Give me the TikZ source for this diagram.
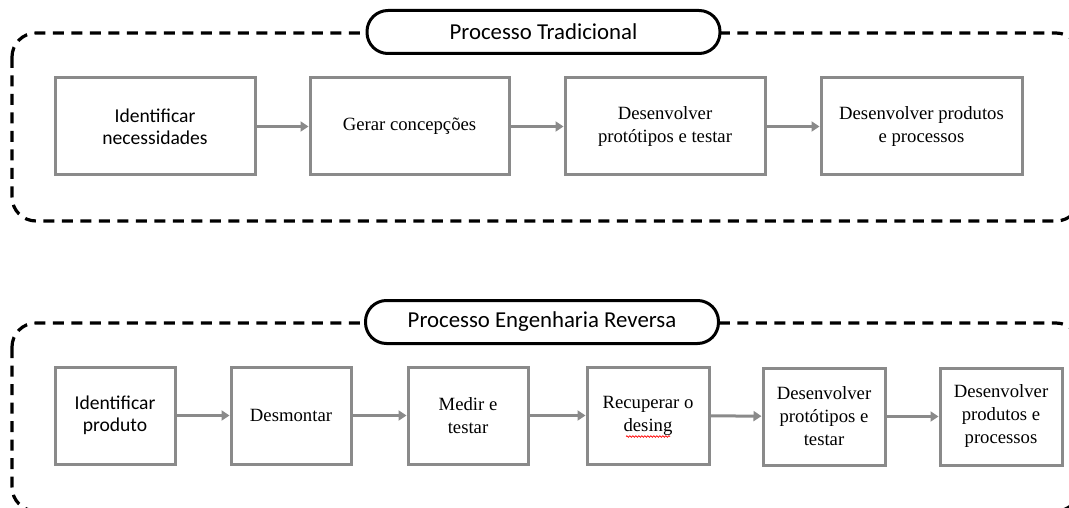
\documentclass[tikz,border=0pt]{standalone}
\usepackage{fontspec}
\setmainfont{Liberation Serif}
\newfontfamily\calib{Carlito}
\usetikzlibrary{arrows.meta,decorations.pathmorphing}
\definecolor{boxgray}{HTML}{8A8A8A}
\tikzset{
  stepbox/.style={draw=boxgray, line width=3pt, fill=white, minimum width=#1, minimum height=97pt, inner sep=2pt, align=center, font=\fontsize{18.7}{23}\selectfont},
  group/.style={draw=black, line width=3.2pt, dash pattern=on 11pt off 7.5pt, rounded corners=24pt},
  pill/.style={draw=black, line width=3pt, fill=white, rounded corners=21pt, minimum width=353pt, minimum height=43pt, font=\calib\fontsize{22.8}{26}\selectfont},
  flow/.style={draw=boxgray, line width=3pt, -{Triangle[length=8pt,width=10pt]}},
  sans/.style={font=\calib\fontsize{19.6}{22}\selectfont},
  squiggle/.style={draw=red, line width=0.7pt, decorate, decoration={snake, amplitude=0.8pt, segment length=3pt}}
}
\begin{document}
\begin{tikzpicture}[x=1pt,y=-1pt]
\useasboundingbox (0,0) rectangle (1069,508);
\clip (0,0) rectangle (1069,508);
% top group
\draw[group] (12,33) rectangle (1080,221);
\node[pill] (p1) at (543.5,32) {Processo Tradicional};
\node[stepbox=200pt] (a1) at (155,126.5) {};
\node[sans, align=center] at (a1.center) {Identificar\\necessidades};
\node[stepbox=199pt] (a2) at (409.5,126.5) {Gerar concepções};
\node[stepbox=200pt] (a3) at (665,126.5) {Desenvolver\\protótipos e testar};
\node[stepbox=201pt] (a4) at (921.5,126.5) {Desenvolver produtos\\e processos};
\draw[flow] (a1) -- (a2);
\draw[flow] (a2) -- (a3);
\draw[flow] (a3) -- (a4);
% bottom group
\draw[group] (12,323) rectangle (1080,511);
\node[pill] (p2) at (542,322) {Processo Engenharia Reversa};
\node[stepbox=120pt] (b1) at (115,415.5) {};
\node[sans, align=center] at (b1.center) {Identificar\\produto};
\node[stepbox=120pt] (b2) at (291,415.5) {Desmontar};
\node[stepbox=120pt] (b3) at (468,415.5) {Medir e\\testar};
\node[stepbox=122pt] (b4) at (648,415.5) {Recuperar o\\desing};
\node[stepbox=122pt] (b5) at (824,416.5) {Desenvolver\\protótipos e\\testar};
\node[stepbox=122pt] (b6) at (1001,416.5) {Desenvolver\\produtos e\\processos};
\draw[flow] (b1) -- (b2);
\draw[flow] (b2) -- (b3);
\draw[flow] (b3) -- (b4);
\draw[flow] (b4) -- (b5);
\draw[flow] (b5) -- (b6);
\coordinate (sq1) at ([xshift=-22pt,yshift=-21pt]b4.center);
\coordinate (sq2) at ([xshift=22pt,yshift=-21pt]b4.center);
\draw[squiggle] (sq1) -- (sq2);
\end{tikzpicture}
\end{document}
